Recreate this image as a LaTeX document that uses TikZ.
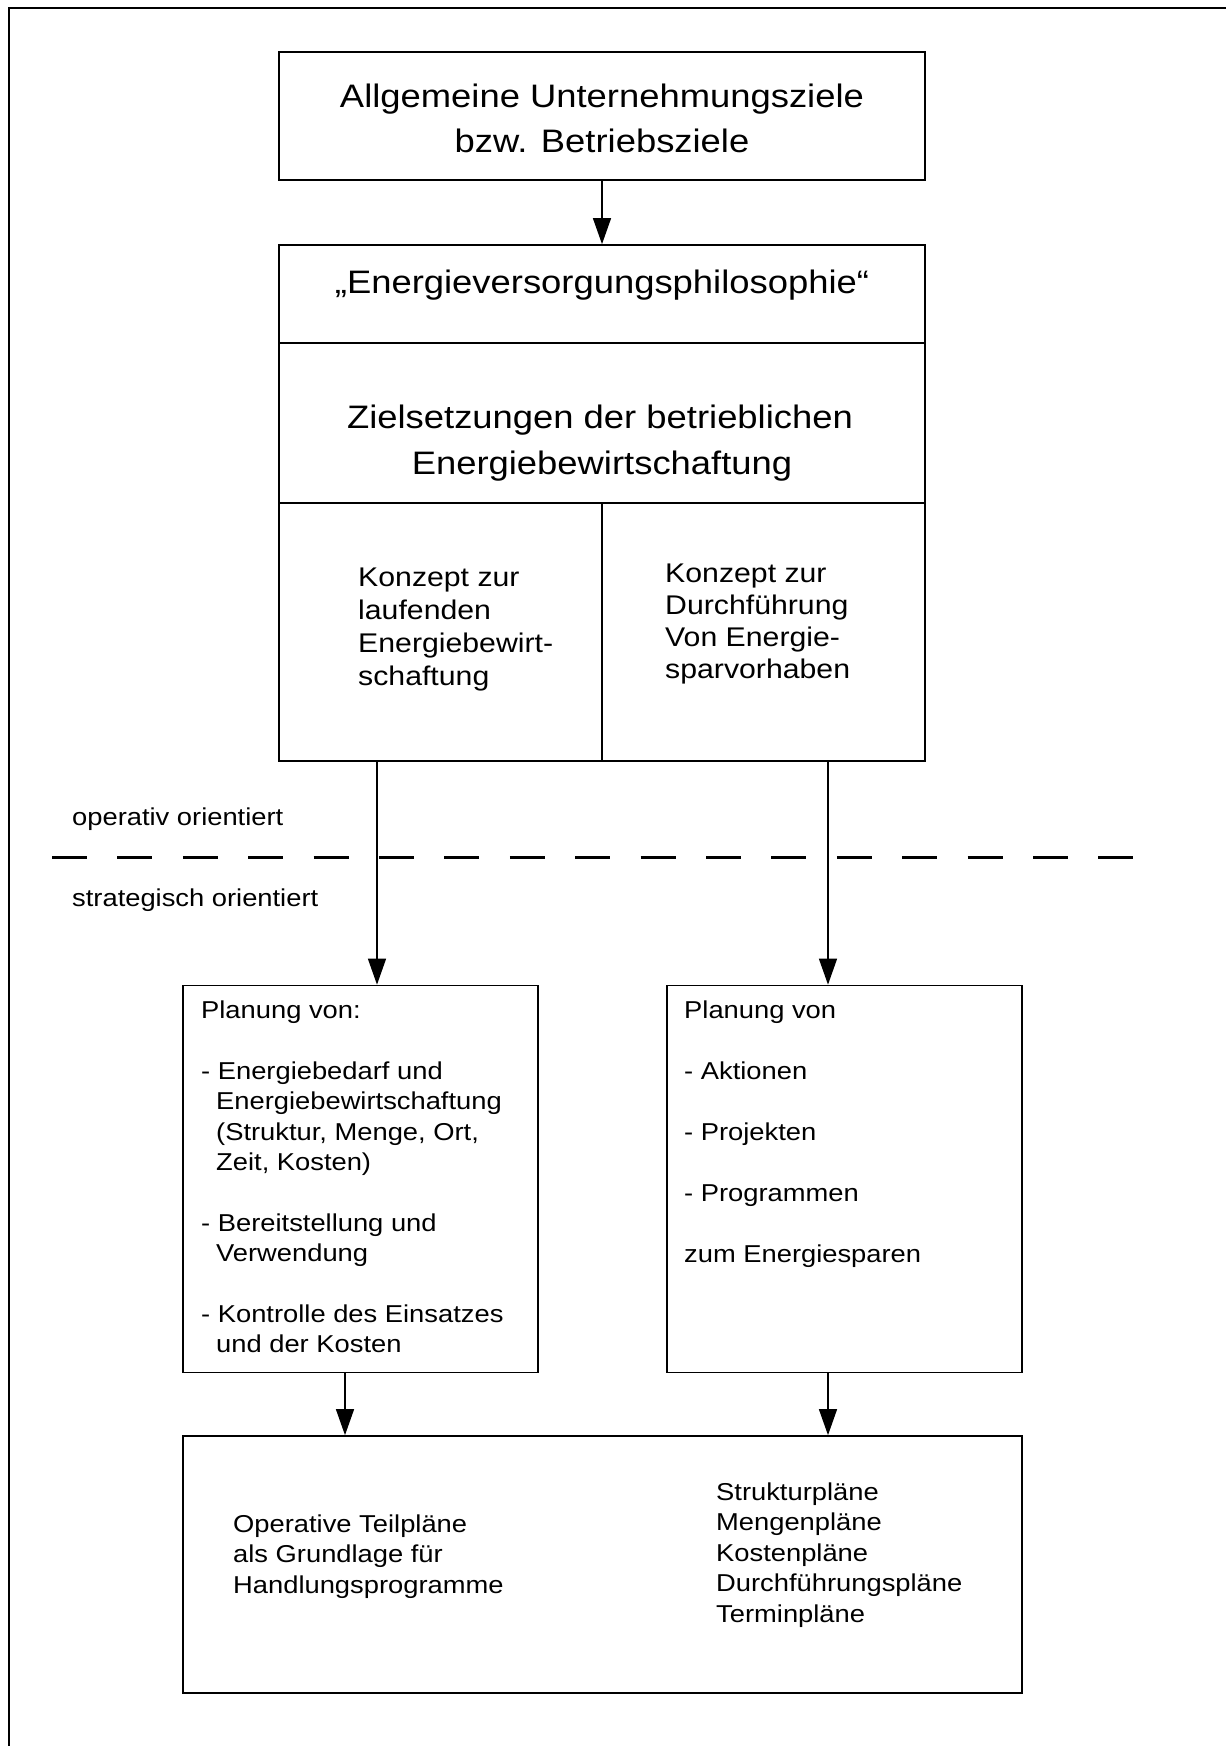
\documentclass[tikz,border=0pt]{standalone}
\usepackage{fontspec}
\setmainfont{Liberation Sans}[FakeStretch=1.12]
\usetikzlibrary{arrows.meta}
\tikzset{
  box/.style={draw, line width=1.7pt, inner sep=0pt},
  arr/.style={line width=1.3pt, -{Triangle[length=26pt,width=18pt]}},
  txt/.style={inner sep=0pt, anchor=base west},
  ctxt/.style={inner sep=0pt, anchor=base},
  bigf/.style={font=\fontsize{32.5pt}{45pt}\selectfont},
  midf/.style={font=\fontsize{27pt}{33pt}\selectfont},
  smallf/.style={font=\fontsize{24.4pt}{30.5pt}\selectfont},
}
\begin{document}
\begin{tikzpicture}[x=1pt,y=-1pt]
\useasboundingbox (0,0) rectangle (1226,1746);
% outer frame (top and left)
\draw[line width=2.5pt] (9,1746) -- (9,8) -- (1226,8);

% boxes
\node[box, minimum width=646pt, minimum height=128pt] (top) at (602,116) {};
\node[box, minimum width=646pt, minimum height=98pt] (philo) at (602,294) {};
\node[box, minimum width=646pt, minimum height=160pt] (ziel) at (602,423) {};
\node[box, minimum width=323pt, minimum height=258pt] (konzL) at (440.5,632) {};
\node[box, minimum width=323pt, minimum height=258pt] (konzR) at (763.5,632) {};
\node[box, minimum width=355pt, minimum height=387pt] (planL) at (360.5,1179) {};
\node[box, minimum width=355pt, minimum height=387pt] (planR) at (844.5,1179) {};
\node[box, minimum width=839pt, minimum height=257pt] (bottom) at (602.5,1564.5) {};

% texts
\node[ctxt, bigf] (t1) at (602,107) {Allgemeine Unternehmungsziele};
\node[ctxt, bigf] (t2) at (602,152) {bzw. Betriebsziele};
\node[ctxt, bigf] (p1) at (602,293) {„Energieversorgungsphilosophie“};
\node[ctxt, bigf] (z1) at (600,428) {Zielsetzungen der betrieblichen};
\node[ctxt, bigf] (z2) at (602,474) {Energiebewirtschaftung};

\node[txt, midf] (kl1) at (358,586) {Konzept zur};
\node[txt, midf] (kl2) at (358,619) {laufenden};
\node[txt, midf] (kl3) at (358,652) {Energiebewirt-};
\node[txt, midf] (kl4) at (358,685) {schaftung};

\node[txt, midf] (kr1) at (665,582) {Konzept zur};
\node[txt, midf] (kr2) at (665,614) {Durchführung};
\node[txt, midf] (kr3) at (665,646) {Von Energie-};
\node[txt, midf] (kr4) at (665,678) {sparvorhaben};

\node[txt, smallf] (op) at (72,825) {operativ orientiert};
\node[txt, smallf] (st) at (72,906) {strategisch orientiert};

\node[txt, smallf] (pl0) at (201,1018) {Planung von:};
\node[txt, smallf] (pl1) at (201,1079) {- Energiebedarf und};
\node[txt, smallf] (pl2) at (216,1109.5) {Energiebewirtschaftung};
\node[txt, smallf] (pl3) at (216,1140) {(Struktur, Menge, Ort,};
\node[txt, smallf] (pl4) at (216,1170.5) {Zeit, Kosten)};
\node[txt, smallf] (pl5) at (201,1231) {- Bereitstellung und};
\node[txt, smallf] (pl6) at (216,1261.5) {Verwendung};
\node[txt, smallf] (pl7) at (201,1322) {- Kontrolle des Einsatzes};
\node[txt, smallf] (pl8) at (216,1352.5) {und der Kosten};

\node[txt, smallf] (pr0) at (684,1018) {Planung von};
\node[txt, smallf] (pr1) at (684,1079) {- Aktionen};
\node[txt, smallf] (pr2) at (684,1140) {- Projekten};
\node[txt, smallf] (pr3) at (684,1201) {- Programmen};
\node[txt, smallf] (pr4) at (684,1262) {zum Energiesparen};

\node[txt, smallf] (bl1) at (233,1532) {Operative Teilpläne};
\node[txt, smallf] (bl2) at (233,1562.5) {als Grundlage für};
\node[txt, smallf] (bl3) at (233,1593) {Handlungsprogramme};

\node[txt, smallf] (br1) at (716,1500) {Strukturpläne};
\node[txt, smallf] (br2) at (716,1530.5) {Mengenpläne};
\node[txt, smallf] (br3) at (716,1561) {Kostenpläne};
\node[txt, smallf] (br4) at (716,1591.5) {Durchführungspläne};
\node[txt, smallf] (br5) at (716,1622) {Terminpläne};

% dashed separator
\draw[line width=3pt, dash pattern=on 35pt off 30.4pt] (52,857) -- (1137,857);

% connectors
\coordinate (xL) at (377,0);
\coordinate (xR) at (828,0);
\coordinate (xLL) at (345,0);
\draw[arr] (top.south) -- (philo.north);
\draw[arr] (konzL.south -| xL) -- (planL.north -| xL);
\draw[arr] (konzR.south -| xR) -- (planR.north -| xR);
\draw[arr] (planL.south -| xLL) -- (bottom.north -| xLL);
\draw[arr] (planR.south -| xR) -- (bottom.north -| xR);
\end{tikzpicture}
\end{document}
